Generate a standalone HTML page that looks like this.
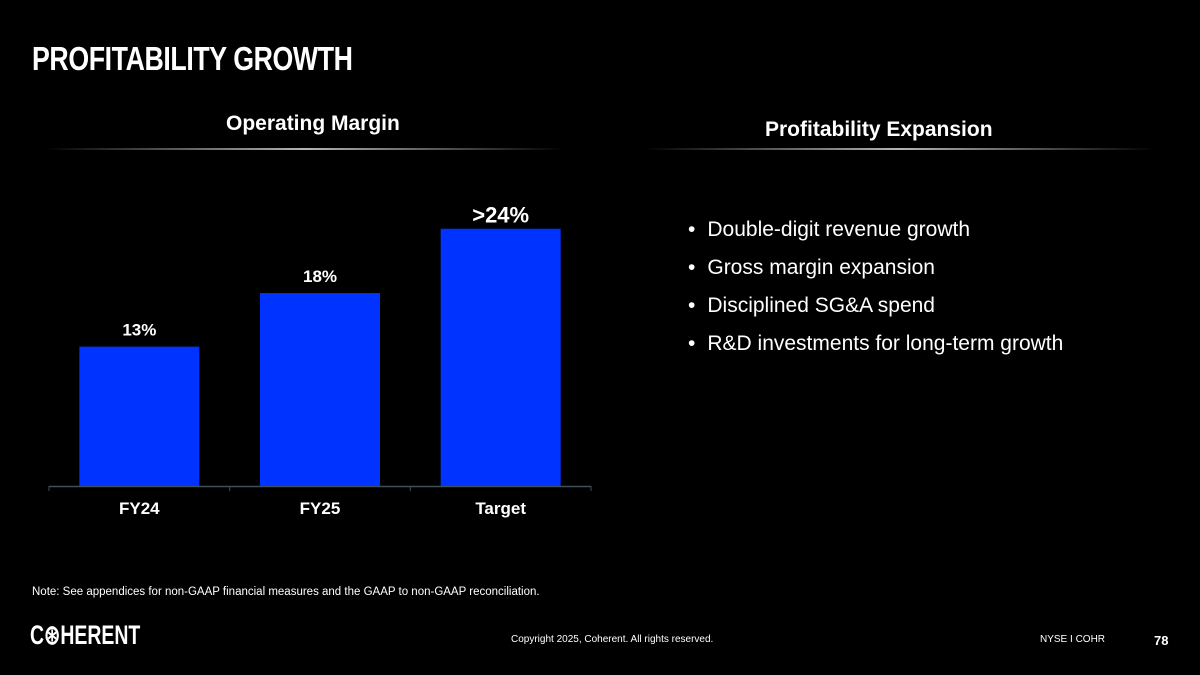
<!DOCTYPE html>
<html><head><meta charset="utf-8"><style>
body{margin:0;width:1200px;height:675px;background:#000;overflow:hidden;font-family:"Liberation Sans",sans-serif;color:#fff;position:relative}
.abs{position:absolute;margin:0}
.title{left:32px;top:40px;font-size:33px;font-weight:bold;transform:scaleX(0.81);transform-origin:left;letter-spacing:-0.5px;font-family:"Liberation Sans Narrow","Liberation Sans",sans-serif}
.sub{font-size:21px;font-weight:bold}
.sep{height:2px;background:linear-gradient(to right,rgba(255,255,255,0),rgba(200,200,200,.9) 50%,rgba(255,255,255,0))}
ul{list-style:none;padding:0}
li{font-size:21px;margin-bottom:15px;height:23px}
li:before{content:"•";margin-right:12px}
</style></head><body>
<div class="abs title">PROFITABILITY GROWTH</div>
<div class="abs sub" style="left:226px;top:112px">Operating Margin</div>
<div class="abs sep" style="left:45px;top:148px;width:520px"></div>
<div class="abs sub" style="left:765px;top:118px">Profitability Expansion</div>
<div class="abs sep" style="left:645px;top:148px;width:510px"></div>
<svg class="abs" style="left:0;top:0" width="1200" height="675" id="chart"></svg>
<ul class="abs" style="left:688px;top:218px">
<li>Double-digit revenue growth</li>
<li>Gross margin expansion</li>
<li>Disciplined SG&amp;A spend</li>
<li>R&amp;D investments for long-term growth</li>
</ul>
<div class="abs" style="left:32px;top:586px;font-size:11.5px">Note: See appendices for non-GAAP financial measures and the GAAP to non-GAAP reconciliation.</div>
<div class="abs" style="left:30px;top:620px;font-size:27px;font-weight:bold;transform:scaleX(0.72);transform-origin:left;font-family:'Liberation Sans Narrow','Liberation Sans',sans-serif">C⊛HERENT</div>
<div class="abs" style="left:511px;top:634px;font-size:10px">Copyright 2025, Coherent. All rights reserved.</div>
<div class="abs" style="left:1040px;top:634px;font-size:10px">NYSE I COHR</div>
<div class="abs" style="left:1154px;top:633px;font-size:13px;font-weight:bold">78</div>
<script>
const categories=["FY24","FY25","Target"];
const values=[13,18,24];
const valueLabels=["13%","18%",">24%"];
const svg=document.getElementById('chart');
const NS='http://www.w3.org/2000/svg';
const x0=49,x1=591,base=486,pxPer=10.72;
const band=(x1-x0)/categories.length;
const y=v=>base-v*pxPer;
function mk(t,a){const e=document.createElementNS(NS,t);for(const k in a)e.setAttribute(k,a[k]);svg.appendChild(e);return e;}
categories.forEach((c,i)=>{
  const cx=x0+band*(i+0.5);
  const r=mk('rect',{x:cx-60,y:y(values[i]),width:120,height:base-y(values[i]),fill:'#0033ff'});
  
  
  const big=i===categories.length-1;
  const t=mk('text',{x:cx,y:y(values[i])-(big?6:11),'text-anchor':'middle',fill:'#fff','font-size':big?22:17,'font-weight':'bold','font-family':'Liberation Sans, sans-serif'});
  t.textContent=valueLabels[i];
  
  
  const l=mk('text',{x:cx,y:514,'text-anchor':'middle',fill:'#fff','font-size':17,'font-weight':'bold','font-family':'Liberation Sans, sans-serif'});
  l.textContent=c;
  
  
});
const ax=mk('line',{x1:x0,x2:x1,y1:base+0.5,y2:base+0.5,stroke:'#3d4f55','stroke-width':1.5});


for(let i=0;i<=categories.length;i++){
  const tk=mk('line',{x1:x0+band*i,x2:x0+band*i,y1:base,y2:base+5,stroke:'#3d4f55','stroke-width':1});
  
  
}
</script>
</body></html>
